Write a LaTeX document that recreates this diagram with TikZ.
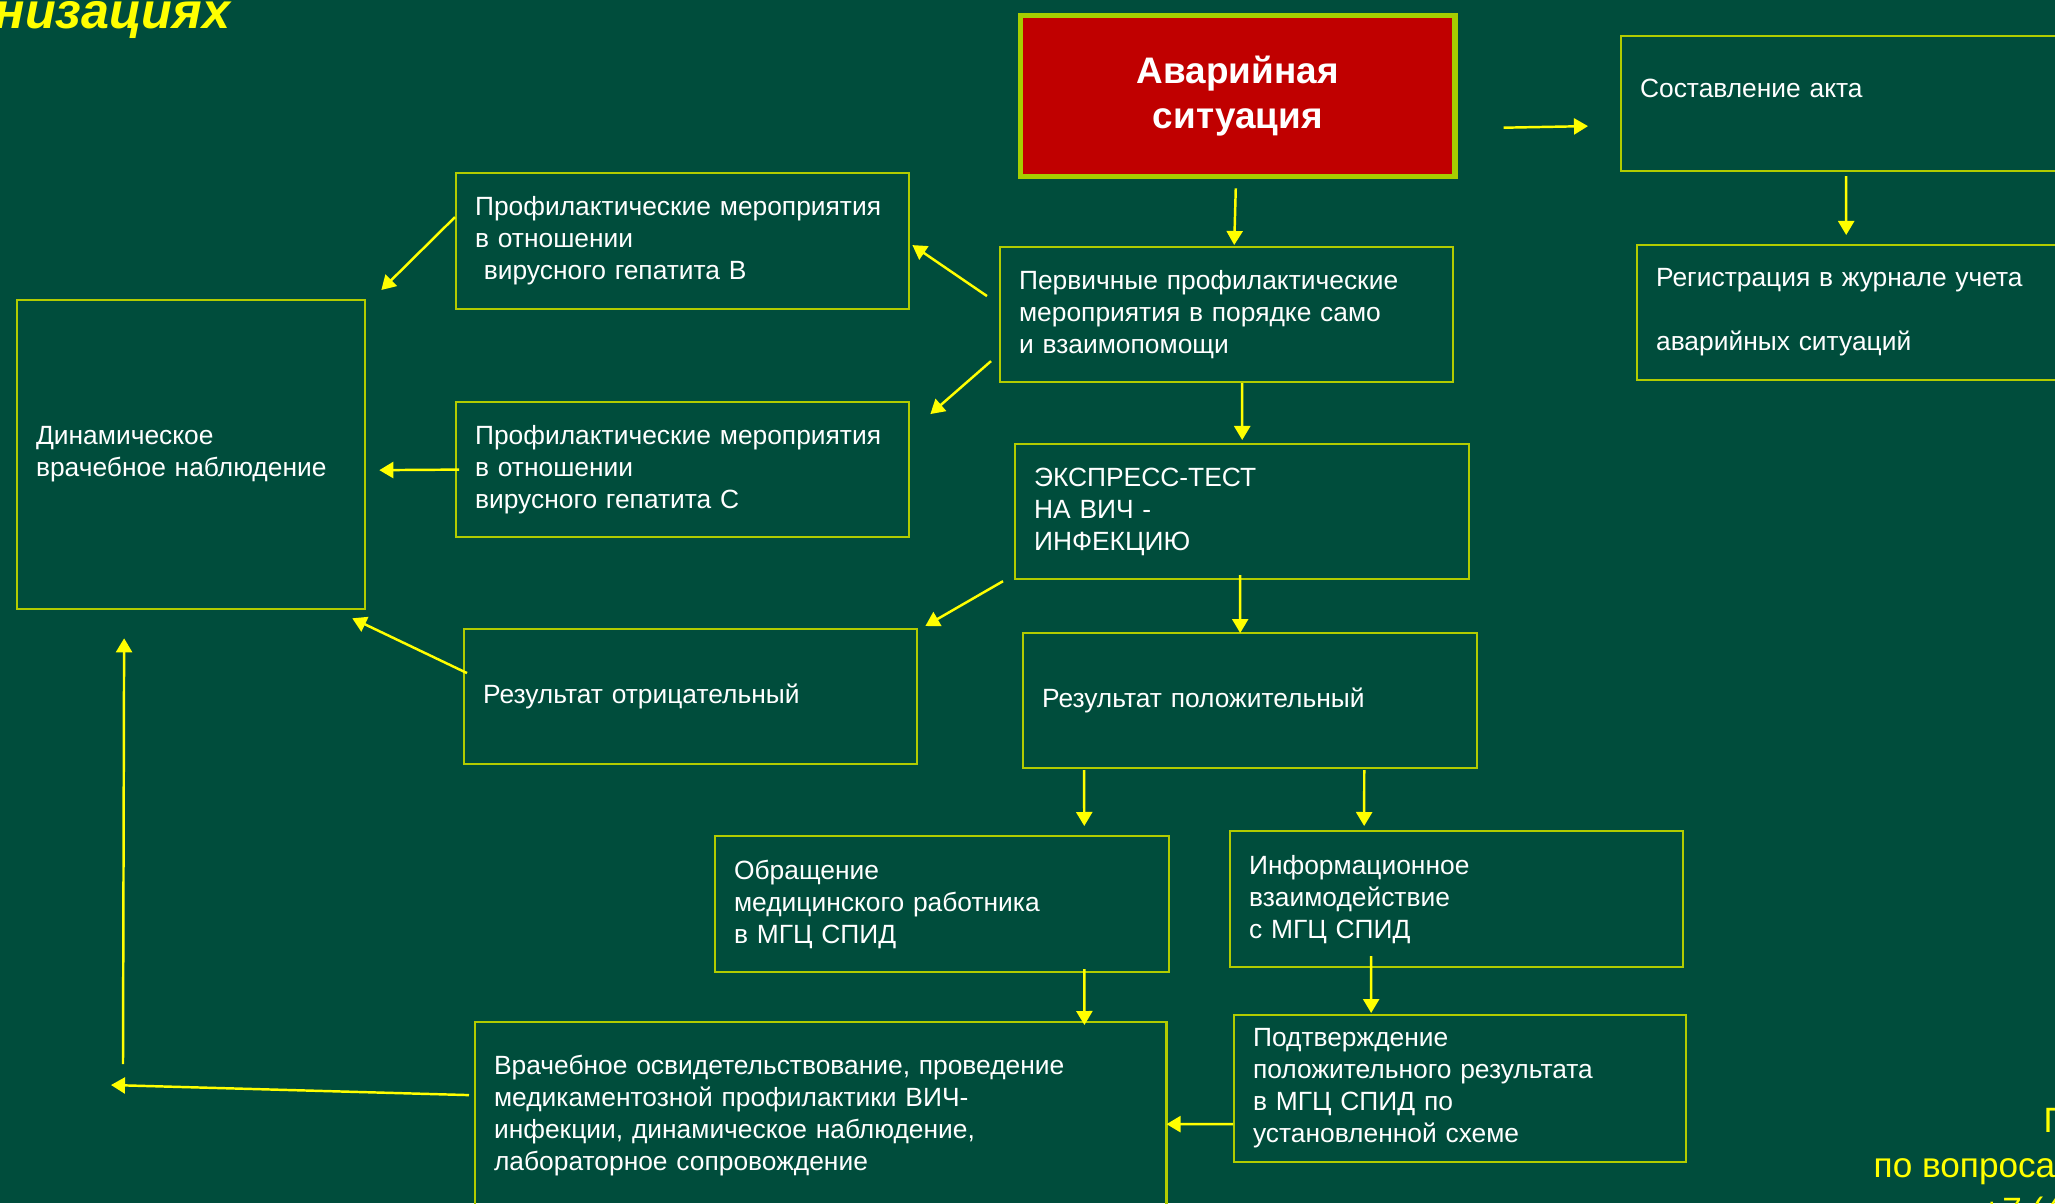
\documentclass[tikz,border=0pt]{standalone}
\usepackage{fontspec}
\setmainfont{Liberation Sans}
\usetikzlibrary{arrows.meta,calc,positioning}
\definecolor{figBg}{RGB}{0,77,60}
\definecolor{figY}{RGB}{255,255,0}
\definecolor{figL}{RGB}{178,204,0}
\definecolor{figR}{RGB}{192,0,0}
\definecolor{figRl}{RGB}{166,206,0}

\tikzset{
  pbox/.style={draw=figL,line width=0.6pt,text=white,align=left,anchor=north west,
    inner xsep=0.19cm,inner ysep=0pt,font=\fontsize{7.5}{9.1}\selectfont},
  arr/.style={-{Triangle[length=0.14cm,width=0.16cm]},figY,line width=0.7pt},
  kont/.style={text=figY,inner sep=0pt,anchor=base west,font=\fontsize{10}{12}\selectfont},
}

\begin{document}
\begin{tikzpicture}[x=0.01cm,y=-0.01cm]
\useasboundingbox (0,0) rectangle (2055,1203);
\fill[figBg] (0,0) rectangle (2055,1203);
\node[text=figY,inner sep=0pt,anchor=base east,font=\fontsize{14.3}{17}\bfseries\itshape\selectfont] (ttl) at (231,28) {низациях};
% boxes
\node[pbox,fill=figR,draw=figRl,line width=1.5pt,align=center,text width=3.96cm,minimum height=1.61cm,
  font=\fontsize{10.5}{12.7}\bfseries\selectfont] (avar) at (1018,13) {Аварийная\\ситуация};
\node[pbox,text width=4.22cm,minimum height=1.35cm] (akt) at (1620,35) {Составление акта\\[-3pt]\strut};
\node[pbox,text width=4.06cm,minimum height=1.35cm] (reg) at (1636,244) {Регистрация в журнале учета\\[9.1pt]аварийных ситуаций};
\node[pbox,text width=4.15cm,minimum height=1.35cm] (perv) at (999,246) {Первичные профилактические\\мероприятия в порядке само\\и взаимопомощи};
\node[pbox,text width=4.15cm,minimum height=1.36cm] (gepB) at (455,172) {Профилактические мероприятия\\в отношении\\\ вирусного гепатита В};
\node[pbox,text width=4.15cm,minimum height=1.35cm] (gepC) at (455,401) {Профилактические мероприятия\\в отношении\\вирусного гепатита С};
\node[pbox,text width=3.10cm,minimum height=3.09cm] (dyn) at (16,299) {Динамическое\\врачебное наблюдение};
\node[pbox,text width=4.16cm,minimum height=1.35cm] (ekspr) at (1014,443) {ЭКСПРЕСС-ТЕСТ\\НА ВИЧ -\\ИНФЕКЦИЮ};
\node[pbox,text width=4.15cm,minimum height=1.35cm] (otr) at (463,628) {Результат отрицательный};
\node[pbox,text width=4.16cm,minimum height=1.35cm] (pol) at (1022,632) {Результат положительный};
\node[pbox,text width=4.16cm,minimum height=1.36cm] (obr) at (714,835) {Обращение\\медицинского работника\\в МГЦ СПИД};
\node[pbox,text width=4.15cm,minimum height=1.36cm] (info) at (1229,830) {Информационное\\взаимодействие\\с МГЦ СПИД};
\node[pbox,text width=4.14cm,minimum height=1.47cm] (podtv) at (1233,1014) {Подтверждение\\положительного результата\\в МГЦ СПИД по\\установленной схеме};
\node[pbox,text width=6.53cm,minimum height=1.86cm] (vrach) at (474,1021) {Врачебное освидетельствование, проведение\\медикаментозной профилактики ВИЧ-\\инфекции, динамическое наблюдение,\\лабораторное сопровождение};
% contacts, bottom right
\node[kont] (kontA) at (2043,1132) {П};
\node[kont] (kontB) at (1873,1177) {по вопроса};
\node[kont] (kontC) at (1981,1222) {+7 (4};
% arrows
\draw[arr] ([xshift=0.46cm,yshift=-0.315cm]avar.east) -- ([xshift=-0.32cm,yshift=-0.225cm]akt.west);
\draw[arr] ([xshift=-0.02cm,yshift=-0.09cm]avar.south) -- ([xshift=0.075cm,yshift=0.01cm]perv.north);
\draw[arr] ([xshift=-0.05cm,yshift=-0.04cm]akt.south) -- ([xshift=-0.13cm,yshift=0.09cm]reg.north);
\draw[arr] ([xshift=-0.12cm,yshift=0.185cm]perv.west) -- ([xshift=0.02cm,yshift=-0.04cm]gepB.east);
\draw[arr] ([xshift=-0.08cm,yshift=-0.465cm]perv.west) -- ([xshift=0.2cm,yshift=0.555cm]gepC.east);
\draw[arr] ([xshift=0.155cm]perv.south) -- ([yshift=0.03cm]ekspr.north);
\draw[arr] ([yshift=0.24cm]gepB.west) -- ([xshift=0.15cm,yshift=0.09cm]dyn.north east);
\draw[arr] ([xshift=0.04cm]gepC.west) -- ([xshift=0.13cm,yshift=-0.155cm]dyn.east);
\draw[arr] ([xshift=-0.11cm,yshift=-0.01cm]ekspr.south west) -- ([xshift=0.07cm,yshift=0.02cm]otr.north east);
\draw[arr] ([xshift=-0.02cm,yshift=0.05cm]ekspr.south) -- ([xshift=-0.1cm,yshift=-0.01cm]pol.north);
\draw[arr] ([xshift=0.04cm,yshift=0.235cm]otr.west) -- ([xshift=-0.14cm,yshift=-0.08cm]dyn.south east);
\draw[arr] ([xshift=-1.66cm,yshift=-0.01cm]pol.south) -- ([xshift=1.42cm,yshift=0.09cm]obr.north);
\draw[arr] ([xshift=1.14cm,yshift=-0.01cm]pol.south) -- ([xshift=-0.925cm,yshift=0.04cm]info.north);
\draw[arr] ([xshift=1.42cm,yshift=0.04cm]obr.south) -- ([xshift=2.635cm,yshift=-0.04cm]vrach.north);
\draw[arr] ([xshift=-0.855cm,yshift=0.12cm]info.south) -- ([xshift=-0.89cm,yshift=0.01cm]podtv.north);
\draw[arr] ([yshift=-0.355cm]podtv.west) -- ([xshift=-0.01cm,yshift=-0.09cm]vrach.east);
\coordinate (lp) at (111,1085);
\coordinate (up) at (123,1064);
\draw[arr] ([xshift=-0.05cm,yshift=0.2cm]vrach.west) -- (lp);
\draw[arr] (up) -- ([xshift=-0.67cm,yshift=-0.28cm]dyn.south);
\end{tikzpicture}
\end{document}
